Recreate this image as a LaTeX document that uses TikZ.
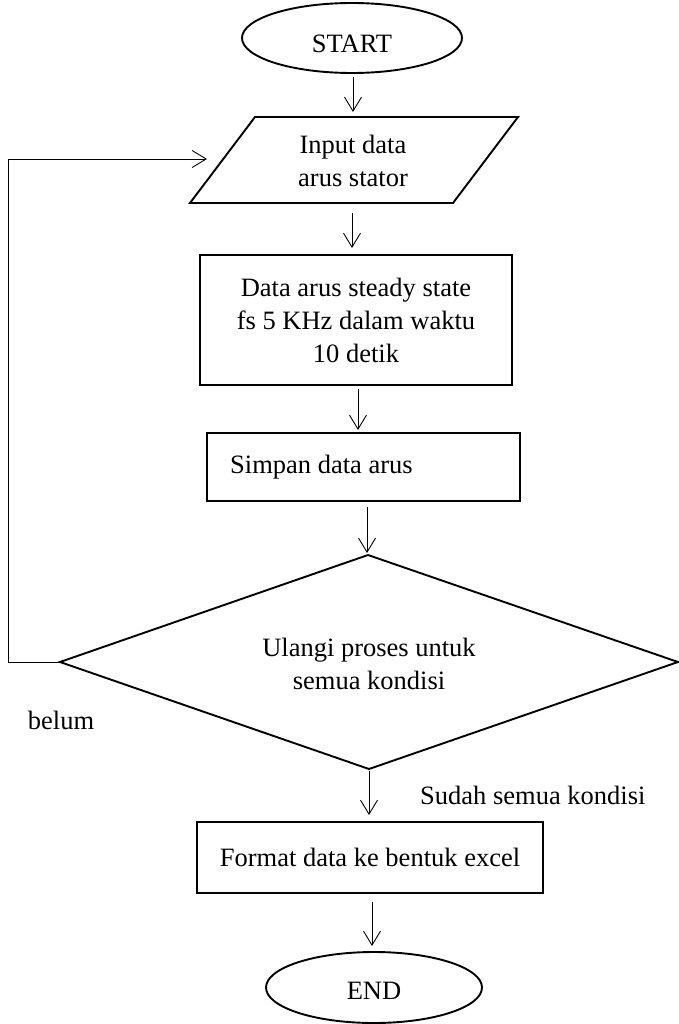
\documentclass[tikz,border=0pt]{standalone}
\usepackage{fontspec}
\setmainfont{Liberation Serif}
\usetikzlibrary{arrows.meta,shapes.geometric}
\begin{document}
\begin{tikzpicture}[x=1pt,y=-1pt,
  shp/.style={line width=1.9pt},
  term/.style={draw,shp,ellipse,inner sep=0pt},
  procbox/.style={draw,shp,rectangle,inner sep=0pt},
  txt/.style={font=\fontsize{26.5}{33}\selectfont,align=center,inner sep=0pt},
  arr/.style={line width=0.9pt,-{Straight Barb[length=14pt,width=17pt,line width=0.9pt]}},
  thinline/.style={line width=0.9pt}
]
\useasboundingbox (0,0) rectangle (679,1024);

% START
\node[term,minimum width=220pt,minimum height=70pt] (start) at (352,38) {};
\node[txt] (starttxt) at (352,44) {START};

% Input parallelogram
\coordinate (pTL) at (255,117);
\coordinate (pTR) at (518,117);
\coordinate (pBR) at (453,203);
\coordinate (pBL) at (190,203);
\draw[shp,line join=miter] (pTL) -- (pTR) -- (pBR) -- (pBL) -- cycle;
\node[txt] (input) at (353,161) {Input data\\arus stator};

% Data box
\node[procbox,txt,minimum width=312pt,minimum height=130pt] (data) at (356,320)
  {Data arus steady state\\fs 5 KHz dalam waktu\\10 detik};

% Simpan box
\node[procbox,minimum width=313pt,minimum height=68pt] (simpan) at (363.5,467) {};
\node[txt,anchor=west] (simpantxt) at (230,467) {Simpan data arus};

% Decision diamond
\coordinate (dT) at (368,555);
\coordinate (dR) at (678,662);
\coordinate (dB) at (369,769);
\coordinate (dL) at (60,662);
\draw[shp,line join=miter] (dT) -- (dR) -- (dB) -- (dL) -- cycle;
\node[txt] (decision) at (369,664) {Ulangi proses untuk\\semua kondisi};

% Format box
\node[procbox,txt,minimum width=346pt,minimum height=71pt] (format) at (370,857.5)
  {Format data ke bentuk excel};

% END
\node[term,minimum width=216pt,minimum height=71pt] (end) at (374,987.5) {};
\node[txt] (endtxt) at (374,991) {END};

% labels
\node[txt] (belum) at (61,720) {belum};
\node[txt,anchor=west] (sudah) at (420,795) {Sudah semua kondisi};

% arrow end points
\coordinate (a1s) at (353,77);  \coordinate (a1e) at (353,112);
\coordinate (a2s) at (352,213); \coordinate (a2e) at (352,248);
\coordinate (a3s) at (358,389); \coordinate (a3e) at (358,430);
\coordinate (a4s) at (367,507); \coordinate (a4e) at (367,553);
\coordinate (a5s) at (369,771); \coordinate (a5e) at (369,815);
\coordinate (a6s) at (372,902); \coordinate (a6e) at (372,946);

\draw[arr] (a1s) -- (a1e);
\draw[arr] (a2s) -- (a2e);
\draw[arr] (a3s) -- (a3e);
\draw[arr] (a4s) -- (a4e);
\draw[arr] (a5s) -- (a5e);
\draw[arr] (a6s) -- (a6e);

% loop back
\coordinate (loopL) at (8,662);
\coordinate (loopT) at (8,159);
\coordinate (loopE) at (207,159);
\draw[arr] (dL) -- (loopL) -- (loopT) -- (loopE);
\end{tikzpicture}
\end{document}
